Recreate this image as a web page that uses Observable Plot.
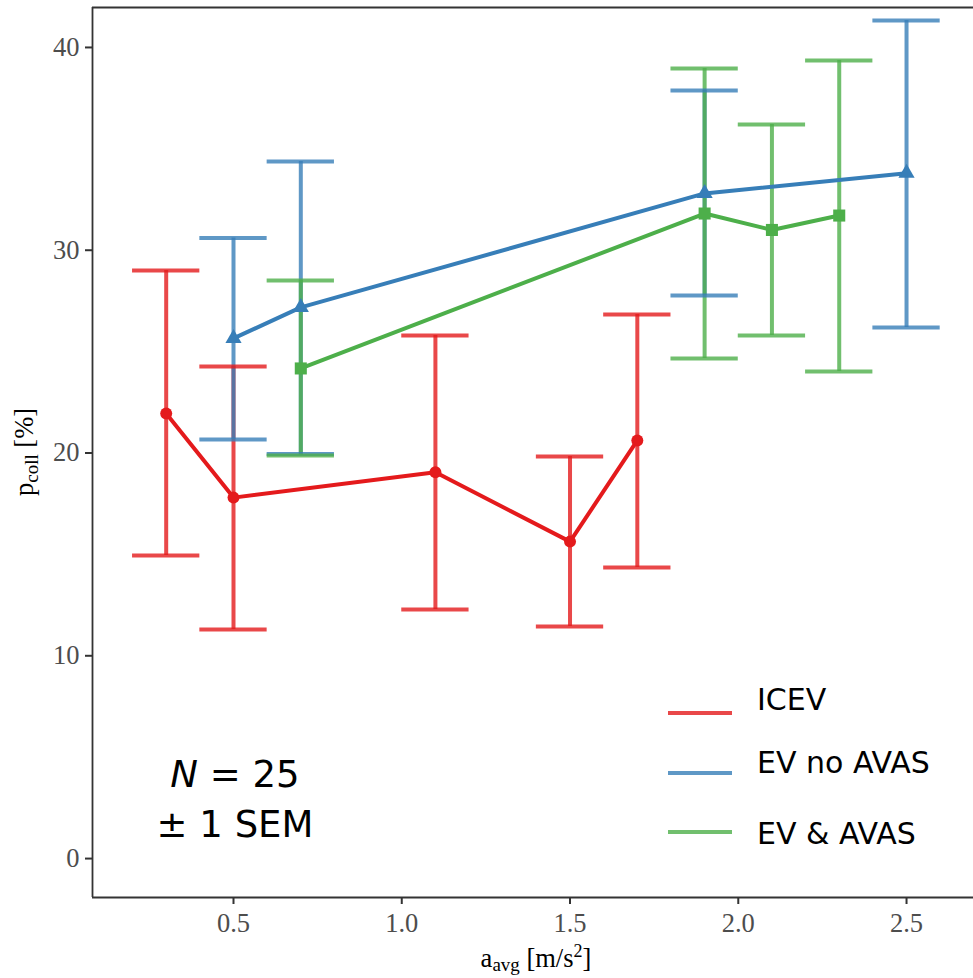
<!DOCTYPE html>
<html>
<head>
<meta charset="utf-8">
<script src="https://cdn.jsdelivr.net/npm/d3@7"></script>
<script src="https://cdn.jsdelivr.net/npm/@observablehq/plot@0.6"></script>
<style>
  body { margin: 0; background: #fff; }
  #chart { width: 973px; height: 978px; }
</style>
</head>
<body>
<div id="chart"></div>
<script>
// Vehicle groups, Set1 colours and point shapes
const groups = ["ICEV", "EV no AVAS", "EV & AVAS"];
const colors = ["#E41A1C", "#377EB8", "#4DAF4A"];
const shapes = ["circle", "triangle", "square"];
const shapeR = [6, 6, 6.8];

// Mean collision probability (%) with ±1 SEM bounds per average deceleration
const icevX    = [0.3, 0.5, 1.1, 1.5, 1.7];
const icevMean = [21.95, 17.8, 19.05, 15.63, 20.62];
const icevLow  = [14.94, 11.3, 12.28, 11.44, 14.35];
const icevHigh = [29.0, 24.27, 25.8, 19.83, 26.83];

const evX    = [0.5, 0.7, 1.9, 2.5];
const evMean = [25.65, 27.18, 32.8, 33.8];
const evLow  = [20.67, 19.95, 27.77, 26.19];
const evHigh = [30.6, 34.38, 37.88, 41.33];

const avasX    = [0.7, 1.9, 2.1, 2.3];
const avasMean = [24.17, 31.81, 31.0, 31.71];
const avasLow  = [19.88, 24.66, 25.8, 24.02];
const avasHigh = [28.51, 38.96, 36.2, 39.36];

const xTicks = [0.5, 1.0, 1.5, 2.0, 2.5];
const yTicks = [0, 10, 20, 30, 40];

const xDomain = [0.081, 2.699];
const yDomain = [-1.92, 41.97];
const capHalf = 0.1; // half width of error bar caps, in x units

function rows(group, xs, means, lows, highs) {
  return xs.map((x, i) => ({group, x, mean: means[i], low: lows[i], high: highs[i]}));
}
const data = [
  ...rows(groups[0], icevX, icevMean, icevLow, icevHigh),
  ...rows(groups[1], evX, evMean, evLow, evHigh),
  ...rows(groups[2], avasX, avasMean, avasLow, avasHigh)
];

const barStyle = {stroke: "group", strokeWidth: 4, strokeOpacity: 0.8};

const plot = Plot.plot({
  width: 973,
  height: 978,
  marginLeft: 92,
  marginRight: 0,
  marginTop: 7,
  marginBottom: 81,
  style: {fontFamily: "'Liberation Serif', 'Times New Roman', serif", fontSize: "26.5px", background: "#fff", overflow: "visible"},
  x: {domain: xDomain},
  y: {domain: yDomain},
  color: {domain: groups, range: colors},
  symbol: {domain: groups, range: shapes},
  marks: [
    // panel border (left, top, bottom)
    Plot.ruleX([xDomain[0]], {stroke: "#333", strokeWidth: 1.8}),
    Plot.ruleY(yDomain, {stroke: "#333", strokeWidth: 1.8}),
    Plot.axisX({ticks: xTicks, tickFormat: d3.format(".1f"), tickSize: 7, tickPadding: 9, stroke: "#333", strokeWidth: 2, fill: "#4D4D4D", label: null}),
    Plot.axisY({ticks: yTicks, tickSize: 7, tickPadding: 6, stroke: "#333", strokeWidth: 2, fill: "#4D4D4D", label: null}),
    // error bars
    Plot.ruleX(data, {x: "x", y1: "low", y2: "high", ...barStyle}),
    Plot.ruleY(data, {y: "low", x1: d => d.x - capHalf, x2: d => d.x + capHalf, ...barStyle}),
    Plot.ruleY(data, {y: "high", x1: d => d.x - capHalf, x2: d => d.x + capHalf, ...barStyle}),
    // means
    Plot.line(data, {x: "x", y: "mean", z: "group", stroke: "group", strokeWidth: 4}),
    ...groups.map((g, i) => Plot.dot(data.filter(d => d.group === g), {
      x: "x", y: "mean", symbol: "group", fill: "group", r: shapeR[i], stroke: null
    }))
  ]
});

document.getElementById("chart").appendChild(plot);

const svg = d3.select(plot);
const serif = "'Liberation Serif', 'Times New Roman', serif";
const sans = "'DejaVu Sans', Verdana, sans-serif";

// y axis title: p_coll [%]
const yt = svg.append("text")
  .attr("transform", "translate(33,452) rotate(-90)")
  .attr("text-anchor", "middle")
  .attr("font-family", serif).attr("font-size", 26.5).attr("fill", "#000");
yt.append("tspan").text("p");
yt.append("tspan").attr("font-size", 19).attr("dy", 5).text("coll");
yt.append("tspan").attr("dy", -5).text(" [%]");

// x axis title: a_avg [m/s²]
const xt = svg.append("text")
  .attr("x", 536).attr("y", 967)
  .attr("text-anchor", "middle")
  .attr("font-family", serif).attr("font-size", 26.5).attr("fill", "#000");
xt.append("tspan").text("a");
xt.append("tspan").attr("font-size", 19).attr("dy", 4).text("avg");
xt.append("tspan").attr("dy", -4).text(" [m/s");
xt.append("tspan").attr("font-size", 18).attr("dy", -10).text("2");
xt.append("tspan").attr("dy", 10).text("]");

// legend
const legendLineY = [713, 773, 832];
const legendTextY = [710, 773, 844];
groups.forEach((g, i) => {
  svg.append("line")
    .attr("x1", 668).attr("x2", 732)
    .attr("y1", legendLineY[i]).attr("y2", legendLineY[i])
    .attr("stroke", colors[i]).attr("stroke-width", 4).attr("stroke-opacity", 0.8);
  svg.append("text")
    .attr("x", 757).attr("y", legendTextY[i])
    .attr("text-anchor", "start")
    .attr("font-family", sans).attr("font-size", 30).attr("fill", "#000")
    .text(g);
});

// sample size annotation
const n1 = svg.append("text")
  .attr("x", 235).attr("y", 787).attr("text-anchor", "middle")
  .attr("font-family", sans).attr("font-size", 37).attr("fill", "#000");
n1.append("tspan").attr("font-style", "italic").text("N");
n1.append("tspan").text(" = 25");
svg.append("text")
  .attr("x", 235).attr("y", 837).attr("text-anchor", "middle")
  .attr("font-family", sans).attr("font-size", 37).attr("fill", "#000")
  .text("± 1 SEM");
</script>
</body>
</html>
